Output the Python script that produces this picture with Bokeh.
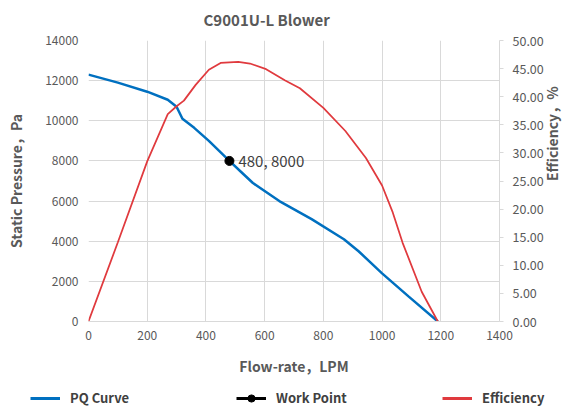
import math
from bokeh.plotting import figure
from bokeh.layouts import column
from bokeh.models import (Range1d, LinearAxis, Legend, LegendItem, NumeralTickFormatter,
                          FixedTicker, ColumnDataSource)
from bokeh.core.properties import value
from bokeh.embed import file_html
from bokeh.resources import INLINE

FONT = "Noto Sans CJK SC"
GRAY = "#595959"

# PQ curve (Flow-rate LPM, Static Pressure Pa)
pq_flow = [0, 100, 200, 270, 300, 320, 360, 410, 445, 480, 520, 560, 650, 760, 870, 920, 1000, 1090, 1190]
pq_pressure = [12300, 11900, 11450, 11050, 10700, 10100, 9650, 9000, 8500, 8000, 7450, 6900, 6000,
               5100, 4100, 3500, 2400, 1250, 0]

# Efficiency curve (Flow-rate LPM, Efficiency %)
eff_flow = [0, 100, 200, 270, 300, 325, 365, 410, 450, 510, 550, 605, 670, 720, 800, 875, 945,
            1000, 1035, 1070, 1135, 1190]
eff_values = [0, 14.1, 28.5, 36.9, 38.3, 39.3, 42.1, 44.8, 46.0, 46.2, 45.9, 44.9, 42.9, 41.5,
              38.0, 33.9, 29.1, 24.2, 19.6, 14.0, 5.3, 0]

# Work point
wp_flow = [480]
wp_pressure = [8000]
wp_label = ["480, 8000"]

x_ticks = [0, 200, 400, 600, 800, 1000, 1200, 1400]
y_ticks = [0, 2000, 4000, 6000, 8000, 10000, 12000, 14000]
eff_ticks = [0, 5, 10, 15, 20, 25, 30, 35, 40, 45, 50]

series_names = ["PQ Curve", "Work Point", "Efficiency"]
PQ_COLOR = "#0070C0"
EFF_COLOR = "#E03A3E"

p = figure(width=574, height=389, output_backend="svg", toolbar_location=None,
           x_range=Range1d(0, 1400), y_range=Range1d(0, 14000),
           min_border_left=88, min_border_right=74, min_border_top=40, min_border_bottom=68)
p.outline_line_color = None
p.background_fill_color = "white"
p.border_fill_color = "white"

p.title.text = "C9001U-L Blower"
p.title.align = "left"
p.title.offset = 115
p.title.standoff = 17
p.title.vertical_align = "top"
p.title.text_font = FONT
p.title.text_font_size = "15px"
p.title.text_font_style = "bold"
p.title.text_color = GRAY

p.extra_y_ranges = {"eff": Range1d(0, 50)}

# grids
p.xgrid.ticker = FixedTicker(ticks=x_ticks)
p.ygrid.ticker = FixedTicker(ticks=y_ticks)
p.grid.grid_line_color = "#d9d9d9"
p.grid.grid_line_width = 1

# bottom axis
xa = p.xaxis[0]
xa.ticker = FixedTicker(ticks=x_ticks)
xa.axis_label = "Flow-rate，LPM"
xa.axis_line_color = "#d9d9d9"
xa.major_tick_line_color = None
xa.minor_tick_line_color = None
xa.major_tick_out = 0
xa.major_tick_in = 0
xa.major_label_standoff = 9
xa.axis_label_standoff = 13

# left axis
ya = p.yaxis[0]
ya.ticker = FixedTicker(ticks=y_ticks)
ya.axis_label = "Static Pressure，Pa"
ya.axis_line_color = None
ya.major_tick_line_color = None
ya.minor_tick_line_color = None
ya.major_tick_out = 0
ya.major_tick_in = 0
ya.major_label_standoff = 10
ya.axis_label_standoff = 16

# right axis
ra = LinearAxis(y_range_name="eff", ticker=FixedTicker(ticks=eff_ticks),
                formatter=NumeralTickFormatter(format="0.00"),
                axis_label="Efficiency，%")
ra.axis_line_color = "#d9d9d9"
ra.major_tick_line_color = "#d9d9d9"
ra.major_tick_in = 0
ra.major_tick_out = 4
ra.minor_tick_line_color = None
ra.major_label_standoff = 9
ra.axis_label_standoff = 5
try:
    ra.axis_label_orientation = math.pi / 2
except Exception:
    pass
p.add_layout(ra, "right")

for ax in [xa, ya, ra]:
    ax.major_label_text_font = FONT
    ax.major_label_text_font_size = "12px"
    ax.major_label_text_color = GRAY
    ax.axis_label_text_font = FONT
    ax.axis_label_text_font_size = "14px"
    ax.axis_label_text_font_style = "bold"
    ax.axis_label_text_color = GRAY
ra.major_label_text_font_size = "12.5px"

# curves
p.line(pq_flow, pq_pressure, line_color=PQ_COLOR, line_width=2.5)
p.line(eff_flow, eff_values, line_color=EFF_COLOR, line_width=1.75, y_range_name="eff")
p.scatter(wp_flow, wp_pressure, size=9, marker="circle", fill_color="black", line_color="black")

src = ColumnDataSource(dict(x=wp_flow, y=wp_pressure, t=wp_label))
p.text(x="x", y="y", text="t", source=src, x_offset=9, text_baseline="middle",
       text_font=value(FONT), text_font_size="15px", text_color="#404040")

# legend strip (own small figure below the chart)
lg = figure(width=574, height=18, output_backend="svg", toolbar_location=None,
            x_range=Range1d(0, 1), y_range=Range1d(0, 1),
            x_axis_location=None, y_axis_location=None,
            min_border=0, min_border_left=0, min_border_right=0, min_border_top=0, min_border_bottom=0)
try:
    lg.frame_align = False
except Exception:
    pass
lg.grid.visible = False
lg.outline_line_color = None
lg.border_fill_color = "white"
lg.background_fill_color = "white"
l_pq = lg.line(x=[-5, -4], y=[-5, -5], line_color=PQ_COLOR, line_width=3)
l_wp = lg.line(x=[-5, -4], y=[-5, -5], line_color="black", line_width=3)
s_wp = lg.scatter(x=[-5], y=[-5], size=9, marker="circle", fill_color="black", line_color="black")
l_eff = lg.line(x=[-5, -4], y=[-5, -5], line_color=EFF_COLOR, line_width=3)

legend = Legend(items=[
    LegendItem(label=series_names[0], renderers=[l_pq]),
    LegendItem(label=series_names[1], renderers=[l_wp, s_wp]),
    LegendItem(label=series_names[2], renderers=[l_eff]),
], orientation="horizontal", location=(30, 0))
legend.glyph_width = 30
legend.glyph_height = 18
legend.label_height = 18
legend.label_width = 166
legend.label_standoff = 10
legend.spacing = 0
legend.padding = 0
legend.margin = 0
legend.border_line_color = None
legend.background_fill_alpha = 0
legend.label_text_font = FONT
legend.label_text_font_size = "13px"
legend.label_text_font_style = "bold"
legend.label_text_color = "#404040"
lg.add_layout(legend, "center")

layout = column(p, lg, spacing=0)
open("out.html", "w").write(file_html(layout, INLINE))
